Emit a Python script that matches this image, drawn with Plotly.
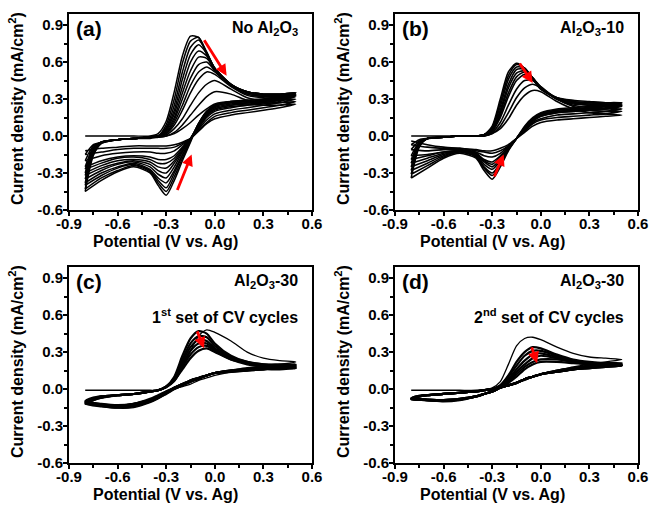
import plotly.graph_objects as go

# ---------------- data ----------------
potential_fwd = [-0.8, -0.75, -0.7, -0.6, -0.5, -0.4, -0.35, -0.3, -0.25, -0.2, -0.15,
                 -0.1, -0.05, 0.0, 0.1, 0.2, 0.3, 0.4, 0.5]
potential_rev = [0.4, 0.3, 0.2, 0.1, 0.0, -0.05, -0.1, -0.15, -0.2, -0.25, -0.3, -0.35,
                 -0.4, -0.5, -0.6, -0.7, -0.8]

x_ticks = [-0.9, -0.6, -0.3, 0.0, 0.3, 0.6]
x_tick_text = ["-0.9", "-0.6", "-0.3", "0.0", "0.3", "0.6"]
y_ticks = [-0.6, -0.3, 0.0, 0.3, 0.6, 0.9]
y_tick_text = ["-0.6", "-0.3", "0.0", "0.3", "0.6", "0.9"]

# (a) No Al2O3 : current density (mA/cm2), forward and reverse sweep of each cycle
a_fwd = [
    [0.0, 0.0, 0.0, 0.0, 0.0, 0.0, 0.02, 0.12, 0.36, 0.65, 0.81, 0.80, 0.66, 0.53, 0.41, 0.36, 0.34, 0.34, 0.35],
    [-0.45, -0.16, -0.06, -0.03, -0.02, -0.01, 0.0, 0.09, 0.30, 0.59, 0.77, 0.80, 0.68, 0.55, 0.42, 0.36, 0.34, 0.34, 0.35],
    [-0.43, -0.15, -0.06, -0.03, -0.02, -0.01, 0.0, 0.07, 0.25, 0.52, 0.72, 0.78, 0.68, 0.55, 0.42, 0.36, 0.34, 0.34, 0.35],
    [-0.40, -0.14, -0.05, -0.03, -0.02, -0.01, 0.0, 0.06, 0.21, 0.46, 0.66, 0.74, 0.67, 0.55, 0.42, 0.36, 0.34, 0.34, 0.35],
    [-0.38, -0.13, -0.05, -0.03, -0.02, -0.01, 0.0, 0.05, 0.18, 0.40, 0.60, 0.69, 0.65, 0.55, 0.42, 0.35, 0.33, 0.33, 0.34],
    [-0.35, -0.12, -0.05, -0.03, -0.02, -0.01, 0.0, 0.04, 0.15, 0.35, 0.53, 0.64, 0.63, 0.54, 0.42, 0.35, 0.33, 0.33, 0.34],
    [-0.32, -0.11, -0.05, -0.03, -0.02, -0.01, 0.0, 0.03, 0.13, 0.30, 0.47, 0.58, 0.60, 0.53, 0.41, 0.34, 0.32, 0.32, 0.33],
    [-0.30, -0.10, -0.05, -0.03, -0.02, -0.01, 0.0, 0.02, 0.11, 0.25, 0.41, 0.52, 0.56, 0.52, 0.41, 0.34, 0.32, 0.32, 0.33],
    [-0.27, -0.10, -0.05, -0.03, -0.02, -0.01, 0.0, 0.02, 0.09, 0.21, 0.35, 0.46, 0.52, 0.50, 0.40, 0.33, 0.31, 0.31, 0.32],
    [-0.25, -0.09, -0.05, -0.03, -0.02, -0.01, 0.0, 0.01, 0.06, 0.14, 0.25, 0.35, 0.42, 0.45, 0.38, 0.31, 0.29, 0.29, 0.30],
    [-0.20, -0.08, -0.05, -0.03, -0.02, -0.01, -0.01, 0.0, 0.03, 0.09, 0.17, 0.25, 0.32, 0.36, 0.34, 0.29, 0.27, 0.27, 0.28],
    [-0.15, -0.07, -0.05, -0.03, -0.02, -0.02, -0.01, 0.0, 0.02, 0.06, 0.11, 0.17, 0.22, 0.26, 0.28, 0.26, 0.25, 0.25, 0.26],
]
a_rev = [
    [0.32, 0.30, 0.29, 0.28, 0.25, 0.20, 0.10, -0.05, -0.20, -0.36, -0.48, -0.40, -0.30, -0.25, -0.29, -0.36, -0.45],
    [0.32, 0.30, 0.29, 0.28, 0.25, 0.20, 0.10, -0.04, -0.18, -0.33, -0.45, -0.38, -0.29, -0.24, -0.28, -0.34, -0.43],
    [0.31, 0.29, 0.28, 0.27, 0.24, 0.19, 0.10, -0.03, -0.16, -0.30, -0.42, -0.36, -0.28, -0.23, -0.26, -0.32, -0.40],
    [0.31, 0.29, 0.28, 0.27, 0.24, 0.19, 0.10, -0.03, -0.15, -0.28, -0.38, -0.34, -0.27, -0.22, -0.25, -0.30, -0.38],
    [0.30, 0.28, 0.27, 0.26, 0.23, 0.18, 0.09, -0.02, -0.13, -0.25, -0.34, -0.31, -0.25, -0.21, -0.23, -0.28, -0.35],
    [0.30, 0.28, 0.27, 0.25, 0.22, 0.17, 0.08, -0.02, -0.12, -0.22, -0.30, -0.28, -0.23, -0.20, -0.22, -0.26, -0.32],
    [0.29, 0.27, 0.26, 0.25, 0.22, 0.17, 0.08, -0.02, -0.11, -0.20, -0.26, -0.25, -0.21, -0.19, -0.20, -0.24, -0.30],
    [0.29, 0.27, 0.25, 0.24, 0.21, 0.16, 0.07, -0.02, -0.10, -0.18, -0.22, -0.22, -0.19, -0.17, -0.18, -0.22, -0.27],
    [0.28, 0.26, 0.25, 0.23, 0.20, 0.15, 0.07, -0.02, -0.09, -0.16, -0.19, -0.19, -0.17, -0.16, -0.17, -0.20, -0.25],
    [0.27, 0.25, 0.23, 0.21, 0.18, 0.13, 0.06, -0.02, -0.07, -0.12, -0.14, -0.14, -0.13, -0.13, -0.14, -0.16, -0.20],
    [0.25, 0.23, 0.21, 0.19, 0.16, 0.11, 0.05, -0.02, -0.06, -0.09, -0.10, -0.10, -0.10, -0.10, -0.11, -0.13, -0.15],
    [0.23, 0.21, 0.19, 0.17, 0.14, 0.10, 0.04, -0.02, -0.05, -0.07, -0.08, -0.08, -0.08, -0.08, -0.09, -0.10, -0.12],
]

# (b) Al2O3-10
b_fwd = [
    [0.0, 0.0, 0.0, 0.0, 0.0, 0.0, 0.01, 0.08, 0.30, 0.52, 0.59, 0.55, 0.46, 0.38, 0.31, 0.29, 0.28, 0.27, 0.27],
    [-0.34, -0.09, -0.02, -0.01, 0.0, 0.0, 0.01, 0.07, 0.27, 0.49, 0.58, 0.55, 0.47, 0.38, 0.31, 0.28, 0.27, 0.27, 0.27],
    [-0.31, -0.08, -0.02, -0.01, 0.0, 0.0, 0.01, 0.06, 0.24, 0.46, 0.56, 0.55, 0.47, 0.39, 0.31, 0.28, 0.27, 0.26, 0.26],
    [-0.28, -0.08, -0.02, -0.01, 0.0, 0.0, 0.01, 0.05, 0.21, 0.42, 0.54, 0.54, 0.47, 0.39, 0.30, 0.27, 0.26, 0.26, 0.26],
    [-0.25, -0.07, -0.02, -0.01, 0.0, 0.0, 0.01, 0.05, 0.19, 0.39, 0.51, 0.53, 0.47, 0.39, 0.30, 0.27, 0.26, 0.25, 0.25],
    [-0.22, -0.06, -0.02, -0.01, 0.0, 0.0, 0.01, 0.04, 0.17, 0.35, 0.48, 0.52, 0.47, 0.39, 0.30, 0.27, 0.25, 0.25, 0.25],
    [-0.19, -0.06, -0.02, -0.01, 0.0, 0.0, 0.01, 0.04, 0.15, 0.32, 0.45, 0.50, 0.47, 0.40, 0.30, 0.26, 0.25, 0.24, 0.24],
    [-0.16, -0.05, -0.02, -0.01, 0.0, 0.0, 0.0, 0.03, 0.11, 0.25, 0.38, 0.45, 0.45, 0.40, 0.30, 0.25, 0.23, 0.22, 0.22],
    [-0.11, -0.04, -0.02, -0.01, 0.0, 0.0, 0.0, 0.02, 0.08, 0.19, 0.31, 0.39, 0.42, 0.39, 0.30, 0.24, 0.21, 0.20, 0.20],
    [-0.07, -0.03, -0.02, -0.01, 0.0, 0.0, 0.0, 0.02, 0.06, 0.14, 0.25, 0.33, 0.37, 0.36, 0.28, 0.22, 0.19, 0.18, 0.17],
]
b_rev = [
    [0.25, 0.24, 0.23, 0.22, 0.19, 0.15, 0.08, -0.02, -0.12, -0.25, -0.35, -0.28, -0.18, -0.14, -0.18, -0.26, -0.34],
    [0.25, 0.23, 0.22, 0.21, 0.18, 0.14, 0.07, -0.02, -0.11, -0.23, -0.32, -0.26, -0.17, -0.13, -0.17, -0.24, -0.31],
    [0.24, 0.23, 0.22, 0.21, 0.18, 0.14, 0.07, -0.02, -0.11, -0.22, -0.30, -0.25, -0.16, -0.13, -0.16, -0.22, -0.28],
    [0.24, 0.22, 0.21, 0.20, 0.17, 0.13, 0.06, -0.02, -0.10, -0.20, -0.27, -0.23, -0.15, -0.12, -0.15, -0.20, -0.25],
    [0.23, 0.22, 0.21, 0.20, 0.17, 0.13, 0.06, -0.02, -0.10, -0.19, -0.25, -0.21, -0.15, -0.12, -0.14, -0.18, -0.22],
    [0.22, 0.21, 0.20, 0.19, 0.16, 0.12, 0.05, -0.02, -0.09, -0.17, -0.23, -0.20, -0.14, -0.12, -0.13, -0.16, -0.19],
    [0.22, 0.21, 0.20, 0.19, 0.16, 0.12, 0.05, -0.02, -0.09, -0.16, -0.21, -0.19, -0.14, -0.12, -0.13, -0.15, -0.16],
    [0.20, 0.19, 0.18, 0.17, 0.14, 0.11, 0.05, -0.02, -0.08, -0.14, -0.17, -0.16, -0.13, -0.11, -0.11, -0.12, -0.11],
    [0.18, 0.17, 0.16, 0.15, 0.13, 0.10, 0.04, -0.02, -0.08, -0.12, -0.14, -0.13, -0.12, -0.10, -0.10, -0.09, -0.07],
    [0.16, 0.15, 0.14, 0.13, 0.11, 0.08, 0.03, -0.02, -0.07, -0.10, -0.12, -0.12, -0.11, -0.10, -0.09, -0.07, -0.04],
]

# (c) Al2O3-30, 1st set of CV cycles
c_fwd = [
    [-0.01, -0.01, -0.01, -0.01, -0.01, -0.01, -0.01, 0.01, 0.06, 0.17, 0.31, 0.43, 0.48, 0.46, 0.39, 0.30, 0.25, 0.23, 0.22],
    [-0.12, -0.09, -0.07, -0.05, -0.04, -0.02, -0.01, 0.02, 0.10, 0.27, 0.41, 0.47, 0.45, 0.37, 0.27, 0.22, 0.20, 0.20, 0.20],
    [-0.12, -0.09, -0.07, -0.05, -0.04, -0.02, -0.01, 0.02, 0.09, 0.24, 0.37, 0.43, 0.42, 0.35, 0.26, 0.22, 0.20, 0.19, 0.19],
    [-0.115, -0.08, -0.07, -0.05, -0.04, -0.02, -0.01, 0.02, 0.08, 0.22, 0.34, 0.40, 0.39, 0.33, 0.25, 0.21, 0.19, 0.19, 0.18],
    [-0.11, -0.08, -0.06, -0.05, -0.04, -0.02, -0.01, 0.02, 0.08, 0.20, 0.31, 0.37, 0.37, 0.32, 0.25, 0.21, 0.19, 0.18, 0.18],
    [-0.11, -0.08, -0.06, -0.05, -0.04, -0.02, -0.01, 0.02, 0.07, 0.18, 0.28, 0.34, 0.35, 0.31, 0.24, 0.21, 0.19, 0.18, 0.17],
    [-0.10, -0.07, -0.06, -0.05, -0.04, -0.02, -0.01, 0.02, 0.07, 0.16, 0.25, 0.31, 0.33, 0.30, 0.24, 0.20, 0.18, 0.17, 0.17],
]
c_rev = [
    [0.20, 0.18, 0.16, 0.14, 0.11, 0.09, 0.07, 0.04, 0.02, 0.0, -0.04, -0.08, -0.11, -0.15, -0.155, -0.14, -0.12],
    [0.19, 0.18, 0.17, 0.15, 0.13, 0.11, 0.08, 0.06, 0.03, 0.0, -0.04, -0.07, -0.10, -0.14, -0.15, -0.14, -0.12],
    [0.18, 0.17, 0.16, 0.15, 0.13, 0.11, 0.09, 0.06, 0.03, 0.0, -0.03, -0.07, -0.10, -0.13, -0.145, -0.13, -0.115],
    [0.18, 0.17, 0.16, 0.15, 0.13, 0.11, 0.09, 0.06, 0.04, 0.01, -0.03, -0.06, -0.09, -0.13, -0.14, -0.13, -0.11],
    [0.17, 0.16, 0.16, 0.15, 0.13, 0.11, 0.09, 0.07, 0.04, 0.01, -0.03, -0.06, -0.09, -0.12, -0.14, -0.13, -0.11],
    [0.17, 0.16, 0.15, 0.14, 0.13, 0.11, 0.09, 0.07, 0.04, 0.01, -0.02, -0.06, -0.09, -0.12, -0.135, -0.125, -0.10],
    [0.16, 0.16, 0.15, 0.14, 0.13, 0.11, 0.09, 0.07, 0.04, 0.01, -0.02, -0.05, -0.08, -0.12, -0.13, -0.12, -0.10],
]

# (d) Al2O3-30, 2nd set of CV cycles
d_fwd = [
    [-0.01, -0.01, -0.01, -0.01, -0.01, -0.01, -0.005, 0.01, 0.06, 0.20, 0.35, 0.41, 0.42, 0.40, 0.34, 0.29, 0.26, 0.25, 0.24],
    [-0.085, -0.06, -0.05, -0.04, -0.03, -0.02, -0.01, 0.0, 0.03, 0.11, 0.22, 0.30, 0.34, 0.33, 0.28, 0.24, 0.22, 0.21, 0.21],
    [-0.085, -0.06, -0.05, -0.04, -0.03, -0.02, -0.01, 0.0, 0.03, 0.10, 0.19, 0.27, 0.31, 0.31, 0.27, 0.23, 0.21, 0.20, 0.20],
    [-0.08, -0.06, -0.05, -0.04, -0.03, -0.02, -0.01, 0.0, 0.02, 0.08, 0.16, 0.23, 0.28, 0.29, 0.26, 0.23, 0.21, 0.20, 0.20],
    [-0.08, -0.06, -0.05, -0.04, -0.03, -0.02, -0.01, 0.0, 0.02, 0.07, 0.14, 0.20, 0.25, 0.27, 0.25, 0.22, 0.20, 0.19, 0.19],
    [-0.075, -0.055, -0.05, -0.04, -0.03, -0.02, -0.01, 0.0, 0.02, 0.06, 0.12, 0.18, 0.22, 0.24, 0.24, 0.22, 0.20, 0.19, 0.19],
    [-0.075, -0.055, -0.05, -0.04, -0.03, -0.02, -0.01, 0.0, 0.01, 0.05, 0.10, 0.16, 0.20, 0.22, 0.22, 0.21, 0.20, 0.19, 0.19],
]
d_rev = [
    [0.22, 0.20, 0.18, 0.15, 0.12, 0.10, 0.07, 0.05, 0.03, 0.01, -0.02, -0.04, -0.06, -0.09, -0.10, -0.095, -0.085],
    [0.20, 0.19, 0.17, 0.15, 0.12, 0.10, 0.08, 0.05, 0.03, 0.01, -0.02, -0.04, -0.06, -0.09, -0.10, -0.09, -0.085],
    [0.19, 0.18, 0.17, 0.15, 0.12, 0.10, 0.08, 0.05, 0.03, 0.01, -0.02, -0.04, -0.06, -0.085, -0.095, -0.09, -0.08],
    [0.19, 0.18, 0.16, 0.14, 0.12, 0.10, 0.08, 0.05, 0.03, 0.01, -0.02, -0.04, -0.06, -0.085, -0.095, -0.09, -0.08],
    [0.18, 0.17, 0.16, 0.14, 0.12, 0.10, 0.08, 0.05, 0.03, 0.01, -0.02, -0.04, -0.06, -0.08, -0.09, -0.085, -0.075],
    [0.18, 0.17, 0.16, 0.14, 0.12, 0.10, 0.08, 0.05, 0.03, 0.01, -0.02, -0.04, -0.06, -0.08, -0.09, -0.085, -0.075],
    [0.18, 0.17, 0.16, 0.14, 0.12, 0.10, 0.08, 0.05, 0.03, 0.01, -0.02, -0.04, -0.06, -0.08, -0.09, -0.085, -0.075],
]

panel_letters = ["(a)", "(b)", "(c)", "(d)"]
sample_names = ["No Al<sub>2</sub>O<sub>3</sub>", "Al<sub>2</sub>O<sub>3</sub>-10",
                "Al<sub>2</sub>O<sub>3</sub>-30", "Al<sub>2</sub>O<sub>3</sub>-30"]
set_names = ["", "", "1<sup>st</sup> set of CV cycles", "2<sup>nd</sup> set of CV cycles"]
x_title = "Potential (V vs. Ag)"
y_title = "Current density (mA/cm<sup>2</sup>)"

# red arrows: (tail x, tail y, head x, head y) per panel
arrows = [
    [(-0.071, 0.79, 0.073, 0.49), (-0.235, -0.45, -0.143, -0.15)],
    [(-0.136, 0.60, -0.05, 0.43), (-0.291, -0.34, -0.229, -0.15)],
    [(-0.112, 0.48, -0.067, 0.33)],
    [(-0.059, 0.35, -0.023, 0.21)],
]

# ---------------- figure ----------------
W, H = 652, 506
FONT = "Arial, Liberation Sans, sans-serif"


def px(x):
    return x / W


def py(y):
    return 1 - y / H


# panel frames in pixels: (left, right, top, bottom)
frames = [(69, 312, 14, 210), (395, 638, 14, 210), (69, 312, 267, 463), (395, 638, 267, 463)]
line_widths = [1.5, 1.6, 2.2, 2.2]

fig = go.Figure()
data_sets = [(a_fwd, a_rev), (b_fwd, b_rev), (c_fwd, c_rev), (d_fwd, d_rev)]
for i, (fwd, rev) in enumerate(data_sets):
    suffix = "" if i == 0 else str(i + 1)
    for k, (f, r) in enumerate(zip(fwd, rev)):
        w = line_widths[i]
        if i >= 2 and k == 0:
            w = 1.3
        fig.add_trace(go.Scatter(
            x=potential_fwd + potential_rev, y=f + r, mode="lines",
            line=dict(color="black", width=w, shape="spline", smoothing=0.7),
            xaxis="x" + suffix, yaxis="y" + suffix,
            showlegend=False, hoverinfo="skip"))

axis_common = dict(
    showline=True, mirror=True, linecolor="black", linewidth=2,
    ticks="outside", ticklen=4, tickwidth=2, tickcolor="black",
    showgrid=False, zeroline=False, automargin=False,
    tickfont=dict(family=FONT, size=15, color="black", weight="bold"),
)

layout = dict(template="none", width=W, height=H,
              margin=dict(l=0, r=0, t=0, b=0, pad=0, autoexpand=False),
              paper_bgcolor="white", plot_bgcolor="white", showlegend=False)
annotations = []
for i, (l, r, t, b) in enumerate(frames):
    suffix = "" if i == 0 else str(i + 1)
    layout["xaxis" + suffix] = dict(
        axis_common, domain=[px(l), px(r)], anchor="y" + suffix,
        range=[-0.9, 0.6], tickmode="array", tickvals=x_ticks, ticktext=x_tick_text,
        ticklabelstandoff=-5,
        minor=dict(ticks="outside", ticklen=3, tickwidth=1.5, tickcolor="black",
                   dtick=0.15, tick0=-0.9))
    layout["yaxis" + suffix] = dict(
        axis_common, domain=[py(b), py(t)], anchor="x" + suffix,
        range=[-0.6, 0.99], tickmode="array", tickvals=y_ticks, ticktext=y_tick_text,
        ticklabelstandoff=-3,
        minor=dict(ticks="outside", ticklen=3, tickwidth=1.5, tickcolor="black",
                   dtick=0.15, tick0=-0.6))

    # panel letter
    annotations.append(dict(text="<b>%s</b>" % panel_letters[i], xref="paper", yref="paper",
                            x=px(l + 5), y=py(t + 14), xanchor="left", yanchor="middle",
                            showarrow=False, font=dict(family=FONT, size=21, color="black")))
    # sample name
    annotations.append(dict(text="<b>%s</b>" % sample_names[i], xref="paper", yref="paper",
                            x=px(r - 12), y=py(t + 14), xanchor="right", yanchor="middle",
                            showarrow=False, font=dict(family=FONT, size=16, color="black")))
    if set_names[i]:
        annotations.append(dict(text="<b>%s</b>" % set_names[i], xref="paper", yref="paper",
                                x=px(r - 12), y=py(t + 49), xanchor="right", yanchor="middle",
                                showarrow=False, font=dict(family=FONT, size=16, color="black")))
    # axis titles
    annotations.append(dict(text="<b>%s</b>" % x_title, xref="paper", yref="paper",
                            x=px(l + 97), y=py(b + 31), xanchor="center", yanchor="middle",
                            showarrow=False, font=dict(family=FONT, size=16, color="black")))
    annotations.append(dict(text="<b>%s</b>" % y_title, xref="paper", yref="paper",
                            x=px(l - 53), y=py((t + b) / 2 - 3), xanchor="center", yanchor="middle",
                            textangle=-90, showarrow=False,
                            font=dict(family=FONT, size=16, color="black")))
    # red arrows
    for (tx, ty, hx, hy) in arrows[i]:
        annotations.append(dict(x=hx, y=hy, ax=tx, ay=ty,
                                xref="x" + suffix, yref="y" + suffix,
                                axref="x" + suffix, ayref="y" + suffix,
                                text="", showarrow=True, arrowhead=2, arrowsize=0.8,
                                arrowwidth=2.8, arrowcolor="red"))

layout["annotations"] = annotations
fig.update_layout(**layout)
fig.write_html("out.html", config={"displayModeBar": False},
               post_script="document.body.style.margin='0';")
